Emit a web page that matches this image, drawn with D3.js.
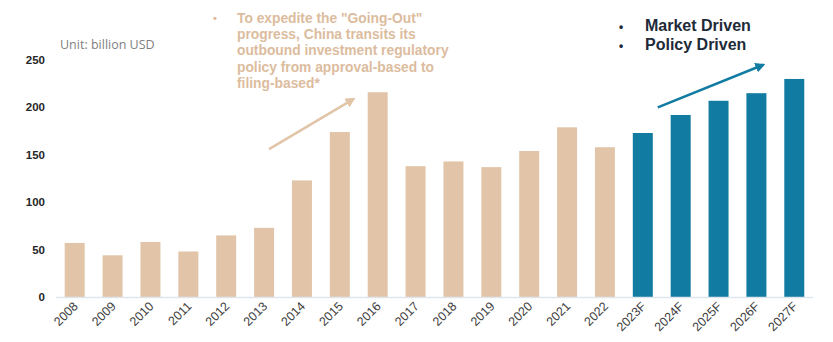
<!DOCTYPE html>
<html>
<head>
<meta charset="utf-8">
<script src="https://cdn.jsdelivr.net/npm/d3@7/dist/d3.min.js"></script>
<style>
    body { margin: 0; background: #fff; }
    svg text { font-family: 'Liberation Sans', Arial, sans-serif; }
    svg .note text { font-weight: 700; }
</style>
</head>
<body>
<div id="chart"></div>
<script>
const years = ['2008', '2009', '2010', '2011', '2012', '2013', '2014', '2015', '2016', '2017',
    '2018', '2019', '2020', '2021', '2022', '2023F', '2024F', '2025F', '2026F', '2027F'];
const investment = [57, 44, 58, 48, 65, 73, 123, 174, 216, 138,
    143, 137, 154, 179, 158, 173, 192, 207, 215, 230];
const forecastYears = ['2023F', '2024F', '2025F', '2026F', '2027F'];
const yTicks = [0, 50, 100, 150, 200, 250];

const noteLines = [
    'To expedite the "Going-Out"',
    'progress, China transits its',
    'outbound investment regulatory',
    'policy from approval-based to',
    'filing-based*'
];
const driverLines = ['Market Driven', 'Policy Driven'];

const colors = {
    actual: '#e2c5a8',
    forecast: '#117ba1',
    note: '#dcbc9e',
    axis: '#dde5ee'
};

const width = 833;
const height = 342;

const svg = d3.select('#chart')
    .append('svg')
    .attr('width', width)
    .attr('height', height);

const x = d3.scaleBand()
    .domain(years)
    .range([56, 813])
    .paddingInner(0.472)
    .paddingOuter(0.23);

const y = d3.scaleLinear()
    .domain([0, 250])
    .range([297, 60]);

const data = years.map((year, i) => ({ year: year, value: investment[i] }));

// bars
svg.append('g').selectAll('rect')
    .data(data)
    .enter()
    .append('rect')
        .attr('x', d => x(d.year))
        .attr('y', d => y(d.value))
        .attr('width', x.bandwidth())
        .attr('height', d => y(0) - y(d.value))
        .attr('fill', d => forecastYears.includes(d.year) ? colors.forecast : colors.actual);

// baseline
svg.append('line')
    .attr('x1', 56)
    .attr('x2', 813)
    .attr('y1', y(0) + 0.5)
    .attr('y2', y(0) + 0.5)
    .attr('stroke', colors.axis)
    .attr('stroke-width', 1.5);

// y labels
svg.append('g').selectAll('text')
    .data(yTicks)
    .enter()
    .append('text')
        .attr('x', 45)
        .attr('y', d => y(d) + 4)
        .attr('text-anchor', 'end')
        .style('font-size', '11.5px')
        .style('font-weight', 700)
        .attr('fill', '#262626')
        .text(d => d);

// x labels
svg.append('g').selectAll('text')
    .data(years)
    .enter()
    .append('text')
        .attr('transform', d => 'translate(' + (x(d) + x.bandwidth() / 2 + 4) + ',' + 307 + ') rotate(-45)')
        .attr('text-anchor', 'end')
        .style('font-size', '12.5px')
        .attr('fill', '#404040')
        .text(d => d);

svg.append('text')
    .attr('x', 60)
    .attr('y', 49)
    .style('font-family', "'Open Sans', 'Noto Sans', sans-serif")
    .style('font-size', '12.5px')
    .attr('fill', '#7f7f7f')
    .text('Unit: billion USD');

// arrows
const defs = svg.append('defs');
function marker(id, color) {
    defs.append('marker')
        .attr('id', id)
        .attr('viewBox', '0 0 10 10')
        .attr('refX', 8)
        .attr('refY', 5)
        .attr('markerWidth', 4)
        .attr('markerHeight', 4)
        .attr('orient', 'auto')
        .append('path')
            .attr('d', 'M0,0 L10,5 L0,10 z')
            .attr('fill', color);
}
marker('head-tan', colors.actual);
marker('head-blue', colors.forecast);

svg.append('line')
    .attr('x1', x('2013') + x.bandwidth() / 2 + 5)
    .attr('y1', y(156))
    .attr('x2', x('2015') + x.bandwidth() + 4)
    .attr('y2', y(209))
    .attr('stroke', colors.actual)
    .attr('stroke-width', 2.5)
    .attr('marker-end', 'url(#head-tan)');

svg.append('line')
    .attr('x1', x('2023F') + x.bandwidth() / 2 + 15)
    .attr('y1', y(200))
    .attr('x2', x('2026F') + x.bandwidth() / 2 + 7)
    .attr('y2', y(245))
    .attr('stroke', colors.forecast)
    .attr('stroke-width', 2.5)
    .attr('marker-end', 'url(#head-blue)');

// multi-line block as one text element
function textBlock(parent, lines, x0, y0, lineHeight, size, color) {
    parent.append('text')
        .attr('y', y0)
        .style('font-size', size)
        .attr('fill', color)
        .selectAll('tspan')
        .data(lines)
        .enter()
        .append('tspan')
            .attr('x', x0)
            .attr('dy', (d, i) => i == 0 ? 0 : lineHeight)
            .text(d => d);
}

// policy note
const note = svg.append('g').attr('class', 'note');
note.append('text')
    .attr('x', 213)
    .attr('y', 22)
    .style('font-size', '11px')
    .attr('fill', colors.note)
    .text('•');
textBlock(note, noteLines, 237, 23, 16.2, '13.8px', colors.note);

// drivers
const drivers = svg.append('g').attr('class', 'note');
textBlock(drivers, driverLines.map(() => '•'), 619, 31, 19, '12px', '#1e2a38');
textBlock(drivers, driverLines, 645, 31, 19, '16px', '#1e2a38');
</script>
</body>
</html>
